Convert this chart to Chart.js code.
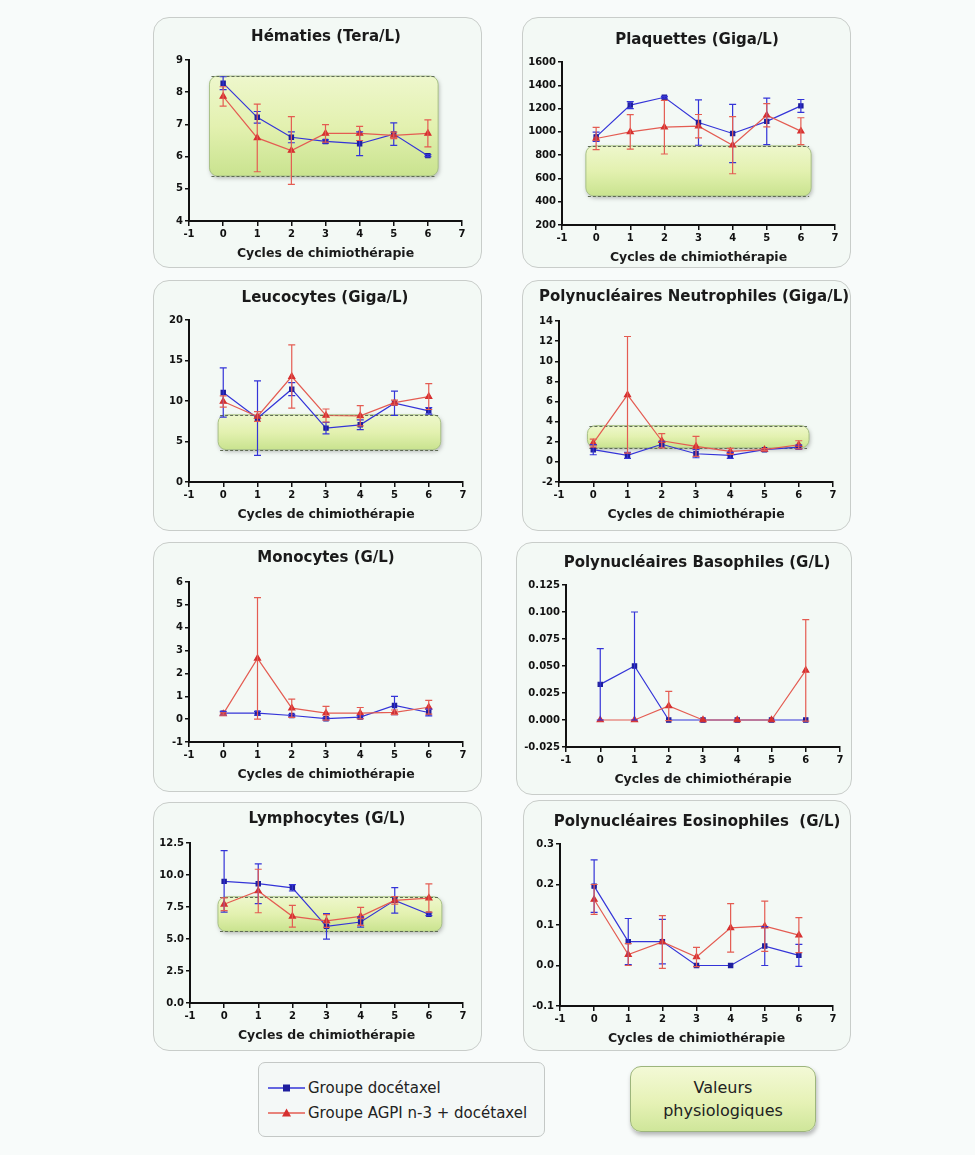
<!DOCTYPE html>
<html lang="fr">
<head>
<meta charset="utf-8">
<title>Paramètres hématologiques au cours de la chimiothérapie</title>
<script src="https://cdn.jsdelivr.net/npm/chart.js@4.4.1/dist/chart.umd.min.js"></script>
<style>
  html, body { margin: 0; padding: 0; }
  body { width: 975px; height: 1155px; position: relative; background: #f8fbfa; overflow: hidden;
         font-family: "DejaVu Sans", sans-serif; }
  .card { position: absolute; }
  .card .bg { position: absolute; inset: 0; box-sizing: border-box; border: 1.5px solid #c9cdca;
              border-radius: 16px; background: #f3f9f5; }
  .card canvas { position: absolute; left: 0; top: 0; }
  #legend { position: absolute; left: 258px; top: 1062px; width: 287px; height: 75px; box-sizing: border-box;
            border: 1.5px solid #c4c8c6; border-radius: 7px; background: #f4f8f7; }
  .item { position: absolute; left: 9px; height: 20px; display: flex; align-items: center; white-space: nowrap;
          font-family: "DejaVu Sans", sans-serif; font-size: 15px; color: #222; }
  .item svg { margin-right: 3px; }
  #normal { position: absolute; left: 630px; top: 1066px; width: 186px; height: 66px; box-sizing: border-box;
            border: 1px solid #9db57c; border-radius: 11px;
            background: linear-gradient(180deg, #f3f9d6 0%, #e6f2b6 55%, #cfe69a 100%);
            box-shadow: 1px 3px 4px rgba(0,0,0,0.28);
            display: flex; flex-direction: column; justify-content: center; align-items: center;
            font-family: "DejaVu Sans", sans-serif; font-size: 16px; line-height: 23px; color: #222; }
</style>
</head>
<body>
<div id="panels"></div>

<div id="legend">
  <div class="item" style="top:15px">
    <svg width="37" height="12"><line x1="0" y1="6" x2="37" y2="6" stroke="#3434d8" stroke-width="1.5"/><rect x="15" y="2.5" width="7" height="7" fill="#1e1e9e"/></svg>
    <span>Groupe docétaxel</span>
  </div>
  <div class="item" style="top:40px">
    <svg width="37" height="12"><line x1="0" y1="6" x2="37" y2="6" stroke="#e45c52" stroke-width="1.5"/><polygon points="18.5,1.5 23,9.5 14,9.5" fill="#d63030"/></svg>
    <span>Groupe AGPI n-3 + docétaxel</span>
  </div>
</div>
<div id="normal"><div>Valeurs</div><div>physiologiques</div></div>

<script>
// ---- data: means and standard deviations per chemotherapy cycle ----
const cycles = [0, 1, 2, 3, 4, 5, 6];
const xTicks = [-1, 0, 1, 2, 3, 4, 5, 6, 7];

// Hématies (Tera/L)
const hemDoc    = [8.28, 7.22, 6.60, 6.47, 6.40, 6.70, 6.03];
const hemDocSd  = [0.20, 0.18, 0.17, 0.05, 0.37, 0.35, 0.03];
const hemAgpi   = [7.87, 6.58, 6.19, 6.72, 6.72, 6.66, 6.72];
const hemAgpiSd = [0.30, 1.05, 1.05, 0.27, 0.22, 0.10, 0.42];
const hemRange  = [5.4, 8.5];
const hemTicks  = [4, 5, 6, 7, 8, 9];

// Plaquettes (Giga/L)
const plqDoc    = [957, 1230, 1297, 1080, 986, 1090, 1223];
const plqDocSd  = [40, 30, 8, 195, 250, 200, 55];
const plqAgpi   = [943, 1000, 1040, 1049, 885, 1143, 1006];
const plqAgpiSd = [95, 148, 230, 100, 245, 100, 115];
const plqRange  = [450, 880];
const plqTicks  = [200, 400, 600, 800, 1000, 1200, 1400, 1600];

// Leucocytes (Giga/L)
const leuDoc    = [11.05, 7.88, 11.46, 6.65, 7.06, 9.73, 8.79];
const leuDocSd  = [3.05, 4.6, 0.8, 0.7, 0.6, 1.5, 0.4];
const leuAgpi   = [9.94, 8.09, 13.02, 8.21, 8.17, 9.8, 10.55];
const leuAgpiSd = [0.7, 0.6, 3.9, 0.8, 1.25, 0.3, 1.6];
const leuRange  = [4.0, 8.3];
const leuTicks  = [0, 5, 10, 15, 20];

// Polynucléaires neutrophiles (Giga/L)
const neuDoc    = [1.21, 0.64, 1.75, 0.81, 0.64, 1.21, 1.47];
const neuDocSd  = [0.5, 0.3, 0.3, 0.4, 0.3, 0.1, 0.2];
const neuAgpi   = [1.87, 6.66, 2.1, 1.54, 1.04, 1.21, 1.7];
const neuAgpiSd = [0.4, 5.8, 0.7, 1.0, 0.3, 0.1, 0.4];
const neuRange  = [1.4, 3.6];
const neuTicks  = [-2, 0, 2, 4, 6, 8, 10, 12, 14];

// Monocytes (G/L)
const monDoc    = [0.26, 0.26, 0.16, 0.02, 0.09, 0.6, 0.29];
const monDocSd  = [0.08, 0.08, 0.05, 0.05, 0.05, 0.4, 0.15];
const monAgpi   = [0.23, 2.66, 0.48, 0.26, 0.26, 0.3, 0.52];
const monAgpiSd = [0.05, 2.66, 0.4, 0.3, 0.25, 0.1, 0.3];
const monTicks  = [-1, 0, 1, 2, 3, 4, 5, 6];

// Polynucléaires basophiles (G/L)
const basDoc    = [0.033, 0.05, 0, 0, 0, 0, 0];
const basDocSd  = [0.033, 0.05, 0, 0, 0, 0, 0];
const basAgpi   = [0, 0, 0.013, 0, 0, 0, 0.046];
const basAgpiSd = [0, 0, 0.0135, 0, 0, 0, 0.047];
const basTicks  = [-0.025, 0, 0.025, 0.05, 0.075, 0.1, 0.125];

// Lymphocytes (G/L)
const lymDoc    = [9.5, 9.32, 9.0, 5.99, 6.33, 8.02, 6.93];
const lymDocSd  = [2.4, 1.55, 0.25, 1.0, 0.4, 1.0, 0.1];
const lymAgpi   = [7.71, 8.75, 6.77, 6.41, 6.77, 8.02, 8.2];
const lymAgpiSd = [0.5, 1.7, 0.85, 0.5, 0.7, 0.3, 1.1];
const lymRange  = [5.6, 8.3];
const lymTicks  = [0, 2.5, 5, 7.5, 10, 12.5];

// Polynucléaires éosinophiles (G/L)
const eosDoc    = [0.196, 0.059, 0.059, 0, 0, 0.048, 0.025];
const eosDocSd  = [0.065, 0.057, 0.055, 0, 0, 0.048, 0.027];
const eosAgpi   = [0.163, 0.027, 0.058, 0.021, 0.093, 0.097, 0.075];
const eosAgpiSd = [0.037, 0.027, 0.065, 0.024, 0.06, 0.062, 0.043];
const eosTicks  = [-0.1, 0, 0.1, 0.2, 0.3];

// ---- panel layout (page pixels): card box, plot area, title centre ----
const panels = [
  { title: 'Hématies (Tera/L)', card: [153, 17, 329, 251], plot: [189, 60, 462, 221], head: [326, 37],
    ticks: hemTicks, dec: 0, doc: hemDoc, docSd: hemDocSd, agpi: hemAgpi, agpiSd: hemAgpiSd, range: hemRange, boxX: [-0.4, 6.3] },
  { title: 'Plaquettes (Giga/L)', card: [522, 17, 329, 251], plot: [562, 62, 835, 225], head: [697, 40],
    ticks: plqTicks, dec: 0, doc: plqDoc, docSd: plqDocSd, agpi: plqAgpi, agpiSd: plqAgpiSd, range: plqRange, boxX: [-0.3, 6.3] },
  { title: 'Leucocytes (Giga/L)', card: [153, 280, 329, 251], plot: [189, 320, 463, 482], head: [325, 298],
    ticks: leuTicks, dec: 0, doc: leuDoc, docSd: leuDocSd, agpi: leuAgpi, agpiSd: leuAgpiSd, range: leuRange, boxX: [-0.15, 6.35] },
  { title: 'Polynucléaires Neutrophiles (Giga/L)', card: [522, 280, 329, 251], plot: [559, 321, 833, 482], head: [694, 297],
    ticks: neuTicks, dec: 0, doc: neuDoc, docSd: neuDocSd, agpi: neuAgpi, agpiSd: neuAgpiSd, range: neuRange, boxX: [-0.17, 6.3] },
  { title: 'Monocytes (G/L)', card: [153, 542, 329, 250], plot: [189, 582, 463, 742], head: [326, 558],
    ticks: monTicks, dec: 0, doc: monDoc, docSd: monDocSd, agpi: monAgpi, agpiSd: monAgpiSd },
  { title: 'Polynucléaires Basophiles (G/L)', card: [516, 542, 336, 253], plot: [566, 585, 840, 747], head: [697, 563],
    ticks: basTicks, dec: 3, doc: basDoc, docSd: basDocSd, agpi: basAgpi, agpiSd: basAgpiSd },
  { title: 'Lymphocytes (G/L)', card: [153, 802, 329, 249], plot: [190, 843, 463, 1003], head: [327, 819],
    ticks: lymTicks, dec: 1, doc: lymDoc, docSd: lymDocSd, agpi: lymAgpi, agpiSd: lymAgpiSd, range: lymRange, boxX: [-0.18, 6.38] },
  { title: 'Polynucléaires Eosinophiles  (G/L)', card: [523, 800, 328, 251], plot: [560, 844, 833, 1006], head: [697, 822],
    ticks: eosTicks, dec: 1, doc: eosDoc, docSd: eosDocSd, agpi: eosAgpi, agpiSd: eosAgpiSd }
];

const BLUE_LINE = '#3434d8', BLUE_PT = '#1e1e9e';
const RED_LINE = '#e45c52', RED_PT = '#d63030';
const AXIS_FONT = '"DejaVu Sans", "Liberation Sans", sans-serif';
const X_SCALE_H = 40;

// Green "valeurs physiologiques" band behind the series
const normBox = {
  id: 'normBox',
  beforeDatasetsDraw(chart, args, opts) {
    if (!opts.range) return;
    const { ctx, scales: { x, y } } = chart;
    const x0 = x.getPixelForValue(opts.xFrom), x1 = x.getPixelForValue(opts.xTo);
    const yT = y.getPixelForValue(opts.range[1]), yB = y.getPixelForValue(opts.range[0]);
    const r = 8;
    ctx.save();
    const path = () => {
      ctx.beginPath();
      ctx.moveTo(x0 + r, yT);
      ctx.arcTo(x1, yT, x1, yB, r);
      ctx.arcTo(x1, yB, x0, yB, r);
      ctx.arcTo(x0, yB, x0, yT, r);
      ctx.arcTo(x0, yT, x1, yT, r);
      ctx.closePath();
    };
    const g = ctx.createLinearGradient(0, yT, 0, yB);
    g.addColorStop(0, '#eef7cc');
    g.addColorStop(0.5, '#e3f1b0');
    g.addColorStop(1, '#c9e38f');
    ctx.shadowColor = 'rgba(0,0,0,0.28)';
    ctx.shadowBlur = 4;
    ctx.shadowOffsetX = 1;
    ctx.shadowOffsetY = 2;
    path();
    ctx.fillStyle = g;
    ctx.fill();
    ctx.shadowColor = 'transparent';
    ctx.lineWidth = 1;
    ctx.strokeStyle = '#a9c287';
    ctx.stroke();
    // dashed limits of the physiological range
    ctx.setLineDash([3, 2]);
    ctx.strokeStyle = '#5f6b55';
    ctx.lineWidth = 1;
    [yT, yB].forEach(yy => {
      ctx.beginPath();
      ctx.moveTo(x0 + 2, Math.round(yy) + 0.5);
      ctx.lineTo(x1 - 2, Math.round(yy) + 0.5);
      ctx.stroke();
    });
    ctx.restore();
  }
};

// Mean ± SD error bars with caps
const errorBars = {
  id: 'errorBars',
  afterDatasetsDraw(chart) {
    const { ctx } = chart;
    const y = chart.scales.y;
    chart.data.datasets.forEach((ds, di) => {
      if (!ds.errors) return;
      const meta = chart.getDatasetMeta(di);
      ctx.save();
      ctx.strokeStyle = ds.borderColor;
      ctx.lineWidth = 1.2;
      meta.data.forEach((pt, i) => {
        const e = ds.errors[i];
        if (!e) return;
        const v = ds.data[i].y;
        const yt = y.getPixelForValue(v + e), yb = y.getPixelForValue(v - e);
        ctx.beginPath();
        ctx.moveTo(pt.x, yt); ctx.lineTo(pt.x, yb);
        ctx.moveTo(pt.x - 3.5, yt); ctx.lineTo(pt.x + 3.5, yt);
        ctx.moveTo(pt.x - 3.5, yb); ctx.lineTo(pt.x + 3.5, yb);
        ctx.stroke();
      });
      ctx.restore();
    });
  }
};

// Panel heading drawn above the plot
const panelTitle = {
  id: 'panelTitle',
  afterDraw(chart, args, opts) {
    const { ctx } = chart;
    ctx.save();
    ctx.font = 'bold 15px ' + AXIS_FONT;
    ctx.fillStyle = '#1a1a1a';
    ctx.textAlign = 'center';
    ctx.textBaseline = 'middle';
    ctx.fillText(opts.text, opts.x, opts.y);
    ctx.restore();
  }
};

const host = document.getElementById('panels');

panels.forEach(p => {
  const [cx, cy, cw, ch] = p.card;
  const [pl, pt, pr, pb] = p.plot;
  const wrap = document.createElement('div');
  wrap.className = 'card';
  wrap.style.left = cx + 'px'; wrap.style.top = cy + 'px';
  wrap.style.width = cw + 'px'; wrap.style.height = ch + 'px';
  const bg = document.createElement('div');
  bg.className = 'bg';
  const cv = document.createElement('canvas');
  cv.width = cw; cv.height = ch;
  cv.style.width = cw + 'px'; cv.style.height = ch + 'px';
  wrap.appendChild(bg); wrap.appendChild(cv);
  host.appendChild(wrap);

  const yW = pl - cx;
  const tickVals = p.ticks;

  new Chart(cv.getContext('2d'), {
    type: 'line',
    data: {
      datasets: [
        { label: 'Groupe docétaxel',
          data: cycles.map((c, i) => ({ x: c, y: p.doc[i] })), errors: p.docSd,
          borderColor: BLUE_LINE, borderWidth: 1.2, pointStyle: 'rect', pointRadius: 3,
          pointBackgroundColor: BLUE_PT, pointBorderColor: BLUE_PT, tension: 0, order: 2 },
        { label: 'Groupe AGPI n-3 + docétaxel',
          data: cycles.map((c, i) => ({ x: c, y: p.agpi[i] })), errors: p.agpiSd,
          borderColor: RED_LINE, borderWidth: 1.2, pointStyle: 'triangle', pointRadius: 3.5,
          pointBackgroundColor: RED_PT, pointBorderColor: RED_PT, tension: 0, order: 1 }
      ]
    },
    options: {
      responsive: false,
      animation: false,
      devicePixelRatio: 1,
      layout: { padding: { left: 0, top: pt - cy, right: cx + cw - pr, bottom: cy + ch - pb - X_SCALE_H } },
      plugins: {
        legend: { display: false },
        tooltip: { enabled: false },
        normBox: p.range ? { range: p.range, xFrom: p.boxX[0], xTo: p.boxX[1] } : {},
        panelTitle: { text: p.title, x: p.head[0] - cx, y: p.head[1] - cy }
      },
      scales: {
        x: {
          type: 'linear', min: -1, max: 7,
          afterBuildTicks: s => { s.ticks = xTicks.map(v => ({ value: v })); },
          afterFit: s => { s.height = X_SCALE_H; },
          border: { display: true, color: '#111', width: 2 },
          grid: { display: true, drawOnChartArea: false, drawTicks: true, tickLength: 5, color: '#111', lineWidth: 1.5 },
          ticks: { autoSkip: false, maxRotation: 0, padding: 2, color: '#111',
                   font: { family: AXIS_FONT, size: 10, weight: 'bold' } },
          title: { display: true, text: 'Cycles de chimiothérapie', color: '#1a1a1a', padding: 0,
                   font: { family: AXIS_FONT, size: 12.5, weight: 'bold' } }
        },
        y: {
          type: 'linear', min: tickVals[0], max: tickVals[tickVals.length - 1],
          afterBuildTicks: s => { s.ticks = tickVals.map(v => ({ value: v })); },
          afterFit: s => { s.width = yW; },
          border: { display: true, color: '#111', width: 2 },
          grid: { display: true, drawOnChartArea: false, drawTicks: true, tickLength: 4, color: '#111', lineWidth: 1.5 },
          ticks: { autoSkip: false, padding: 2, color: '#111',
                   font: { family: AXIS_FONT, size: 10, weight: 'bold' },
                   callback: v => Number(v).toFixed(p.dec) }
        }
      }
    },
    plugins: [normBox, errorBars, panelTitle]
  });
});
</script>
</body>
</html>
